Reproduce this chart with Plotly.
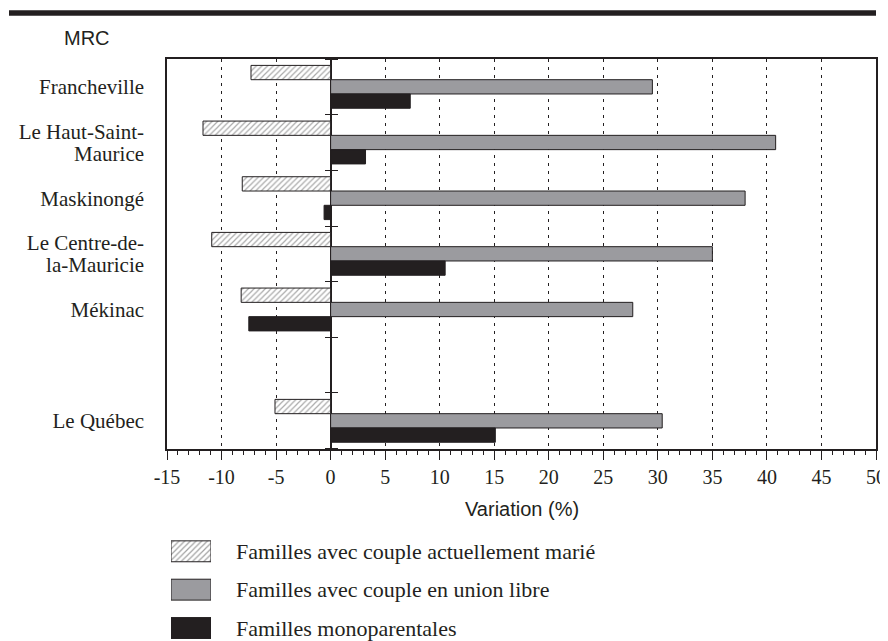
import plotly.graph_objects as go

# ---- data ----
categories = ["Francheville", "Le Haut-Saint-\nMaurice", "Maskinongé",
              "Le Centre-de-\nla-Mauricie", "Mékinac", "", "Le Québec"]
married = [-7.3, -11.7, -8.1, -10.9, -8.2, None, -5.1]
common_law = [29.5, 40.8, 38.0, 35.0, 27.7, None, 30.4]
single_parent = [7.3, 3.2, -0.6, 10.5, -7.5, None, 15.1]
series_names = ["Familles avec couple actuellement marié",
                "Familles avec couple en union libre",
                "Familles monoparentales"]
x_ticks = list(range(-15, 55, 5))

# ---- style ----
INK = "#231f20"
GRAY = "#9b9b9f"
SERIF = "Liberation Serif, Times New Roman, serif"
SANS = "Liberation Sans, Arial, sans-serif"

# page body has an 8px margin: figure is drawn 8px in from the top-left
OFF = 8
W, H = 888 - OFF, 641 - OFF
L = 167 - OFF
R = W - (876 - OFF)
T = 59 - OFF
B = 0
PW, PH = W - L - R, H - T - B


def px_x(px):
    """reference-page x pixel -> paper fraction"""
    return (px - OFF - L) / PW


def px_y(py):
    """reference-page y pixel -> paper fraction"""
    return (H - B - (py - OFF)) / PH


y_pos = list(range(len(categories)))
y_range = [len(categories) - 0.5, -0.5]

# tick labels (multi-line labels split into separate ticks for tight line spacing)
tick_vals, tick_text = [], []
for i, c in enumerate(categories):
    lines = c.split("\n")
    if len(lines) == 1:
        tick_vals.append(i)
        tick_text.append(lines[0])
    else:
        tick_vals += [i - 0.2, i + 0.2]
        tick_text += lines
boundaries = [i - 0.5 for i in range(len(categories) + 1)]

hatch = dict(shape="/", fgcolor="#555555", bgcolor="white", size=4, solidity=0.3)

fig = go.Figure()
line_style = dict(color=INK, width=1)
fig.add_trace(go.Bar(
    y=y_pos, x=married, orientation="h", name=series_names[0],
    marker=dict(color="white", line=line_style, pattern=hatch),
    showlegend=False, hoverinfo="skip"))
fig.add_trace(go.Bar(
    y=y_pos, x=common_law, orientation="h", name=series_names[1],
    marker=dict(color=GRAY, line=line_style),
    showlegend=False, hoverinfo="skip"))
fig.add_trace(go.Bar(
    y=y_pos, x=single_parent, orientation="h", name=series_names[2],
    marker=dict(color=INK, line=line_style),
    showlegend=False, hoverinfo="skip"))

# empty helper traces so the zero-line tick axes are certainly drawn
for ax in ("y2", "y3"):
    fig.add_trace(go.Scatter(x=[None], y=[None], yaxis=ax, mode="markers",
                             showlegend=False, hoverinfo="skip"))

# custom legend as a small bar subplot with large swatches
fig.add_trace(go.Bar(
    y=[0, 1, 2], x=[1, 1, 1], orientation="h", xaxis="x2", yaxis="y4",
    width=0.545,
    marker=dict(color=["white", GRAY, INK], line=line_style,
                pattern=dict(shape=["/", "", ""], fgcolor="#555555",
                             size=4, solidity=0.3)),
    showlegend=False, hoverinfo="skip"))

fig.update_layout(
    width=W, height=H,
    margin=dict(l=L, r=R, t=T, b=B),
    paper_bgcolor="white", plot_bgcolor="white",
    barmode="group", bargap=0.23, bargroupgap=0,
    showlegend=False,
    xaxis=dict(
        domain=[0, 1], range=[-15, 50],
        tickvals=x_ticks, ticktext=[str(v) for v in x_ticks],
        ticks="outside", ticklen=10, tickwidth=1.2, tickcolor=INK,
        minor=dict(ticks="outside", ticklen=5, dtick=1, tick0=0,
                   tickcolor=INK, tickwidth=1, showgrid=False),
        showgrid=True, gridcolor=INK, gridwidth=1, griddash="3px,5px",
        zeroline=True, zerolinecolor=INK, zerolinewidth=1.5,
        showline=True, linecolor=INK, linewidth=1.5, mirror=True,
        tickfont=dict(family=SERIF, size=20, color=INK),
    ),
    yaxis=dict(
        domain=[px_y(450), 1], range=y_range,
        tickvals=tick_vals, ticktext=tick_text, ticks="",
        ticklabelstandoff=17,
        showgrid=False, zeroline=False,
        showline=True, linecolor=INK, linewidth=1.5, mirror=True,
        tickfont=dict(family=SERIF, size=21, color=INK),
    ),
    yaxis2=dict(
        overlaying="y", anchor="free", position=15 / 65, side="left",
        range=y_range, tickvals=boundaries, ticks="outside", ticklen=6,
        tickcolor=INK, tickwidth=1.2, showticklabels=False,
        showgrid=False, zeroline=False, showline=False,
    ),
    yaxis3=dict(
        overlaying="y", anchor="free", position=15 / 65, side="right",
        range=y_range, tickvals=boundaries, ticks="outside", ticklen=6,
        tickcolor=INK, tickwidth=1.2, showticklabels=False,
        showgrid=False, zeroline=False, showline=False,
    ),
    xaxis2=dict(
        domain=[px_x(171), px_x(211)], range=[0, 1], anchor="y4",
        visible=False, fixedrange=True,
    ),
    yaxis4=dict(
        domain=[0, px_y(533.75)], range=[2.286, -0.5], anchor="x2", side="right",
        tickvals=[0, 1, 2], ticktext=series_names, ticks="",
        ticklabelstandoff=24, ticklabeloverflow="allow",
        showgrid=False, zeroline=False, showline=False,
        tickfont=dict(family=SERIF, size=22, color=INK),
    ),
    shapes=[dict(type="rect", xref="paper", yref="paper",
                 x0=px_x(9), x1=px_x(876), y0=px_y(15.5), y1=px_y(10),
                 fillcolor=INK, line=dict(width=0))],
    annotations=[
        dict(text="MRC", xref="paper", yref="paper", x=px_x(87), y=px_y(37.5),
             xanchor="center", yanchor="middle", showarrow=False,
             font=dict(family=SANS, size=20, color=INK)),
        dict(text="Variation (%)", xref="paper", yref="paper", x=0.5,
             y=px_y(511), xanchor="center", yanchor="middle", showarrow=False,
             font=dict(family=SANS, size=20, color=INK)),
    ],
)

fig.write_html("out.html")
